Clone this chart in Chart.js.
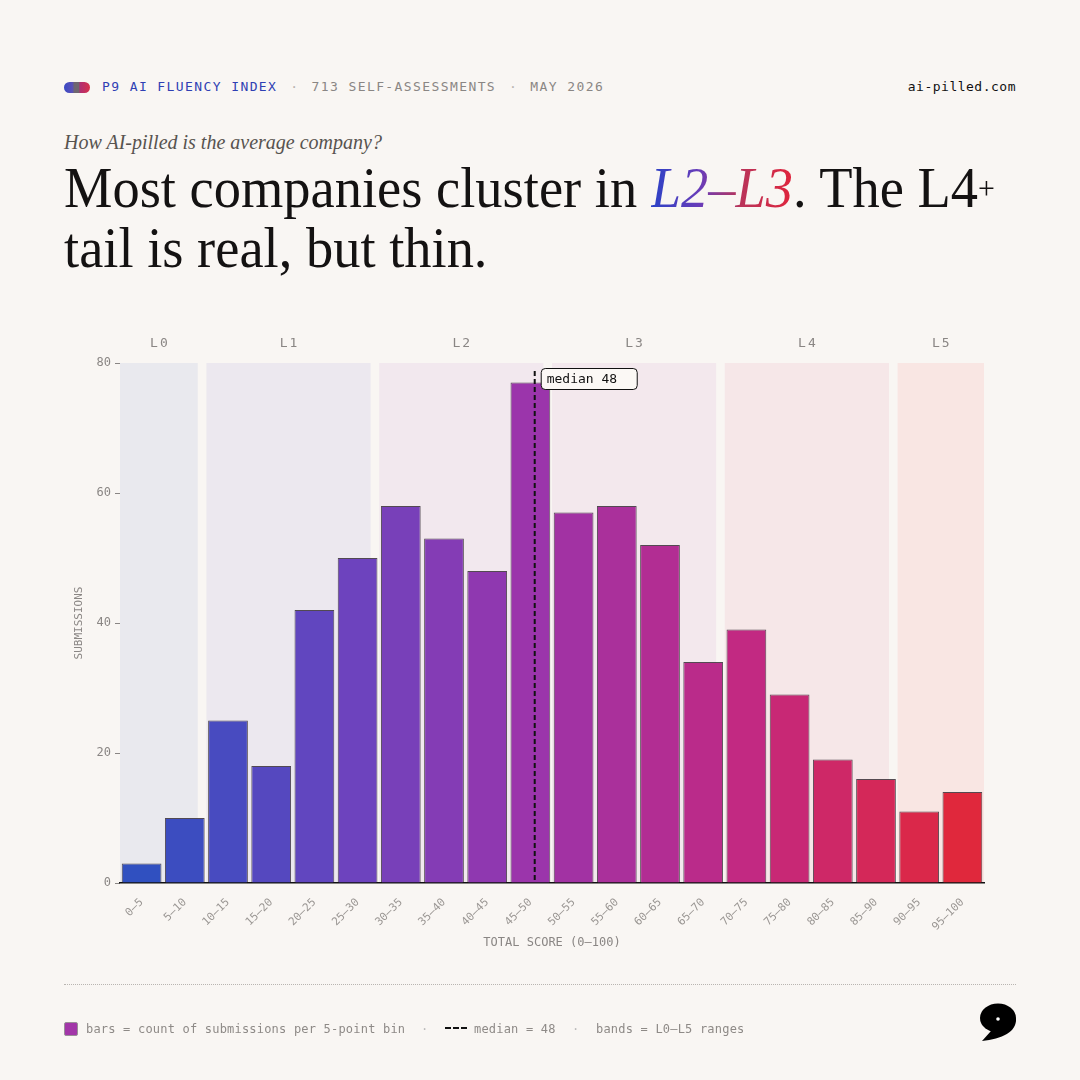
<!DOCTYPE html>
<html><head><meta charset="utf-8">
<script src="https://cdn.jsdelivr.net/npm/chart.js@4.4.1/dist/chart.umd.min.js"></script>
<style>
html,body{margin:0;padding:0;background:#f9f6f3;}
#page{position:relative;width:1080px;height:1080px;overflow:hidden;background:#f9f6f3;font-family:"DejaVu Sans Mono",monospace;}
.abs{position:absolute;white-space:nowrap;}
#pill{left:64px;top:82px;width:26px;height:11px;border-radius:6px;background:linear-gradient(90deg,#3a49c4 0%,#5a50b8 32%,#6f6670 40%,#6f6670 56%,#b02f72 62%,#d8304a 100%);}
#hdr{left:102px;top:79px;font-size:13px;letter-spacing:1.4px;color:#8a8684;line-height:16px;}
#hdr .b{color:#2f3fb3;}
#hdr .d{color:#b8b4b0;margin:0 12px 0 13px;}
#site{right:64px;top:79px;font-size:13px;letter-spacing:0.5px;color:#111;line-height:16px;}
#sub{left:64px;top:129px;font-family:"Liberation Serif",serif;font-style:italic;font-size:20px;color:#57534f;line-height:26px;}
#title{left:64px;top:158px;font-family:"Liberation Serif",serif;font-size:58px;line-height:59px;color:#141212;transform-origin:0 0;}
#title .grad{font-style:italic;background:linear-gradient(90deg,#2b42c6 0%,#6a3cb8 35%,#b8345a 62%,#e0243c 100%);-webkit-background-clip:text;background-clip:text;color:transparent;}
#title .plus{font-size:0.55em;vertical-align:0.25em;}
#rule{left:64px;top:984px;width:952px;height:0;border-top:1px dotted #b9b5b1;}
.lg{top:1021px;font-size:12px;color:#8e8a87;line-height:16px;letter-spacing:0.2px;}
#sw{left:64px;top:1022px;width:12px;height:12px;background:#a236a8;border:1px solid #9a8f98;border-radius:2px;}
#dash{left:445px;top:1027px;width:22px;height:2px;background:repeating-linear-gradient(90deg,#111 0 6px,transparent 6px 8px);}
#wrap{position:absolute;left:0;top:0;width:1080px;height:1080px;}
</style></head>
<body><div id="page">
<div id="pill" class="abs"></div>
<div id="hdr" class="abs"><span class="b">P9 AI FLUENCY INDEX</span><span class="d">·</span>713 SELF-ASSESSMENTS<span class="d">·</span>MAY 2026</div>
<div id="site" class="abs">ai-pilled.com</div>
<div id="sub" class="abs">How AI-pilled is the average company?</div>
<div id="title" class="abs">Most companies cluster in <span class="grad">L2–L3</span>. The L4<span class="plus">+</span><br>tail is real, but thin.</div>
<div id="wrap"><canvas id="c"></canvas></div>
<div id="rule" class="abs"></div>
<div id="sw" class="abs"></div>
<div class="abs lg" style="left:86px">bars = count of submissions per 5-point bin</div>
<div class="abs lg" style="left:421px;color:#bbb">·</div>
<div id="dash" class="abs"></div>
<div class="abs lg" style="left:474px">median = 48</div>
<div class="abs lg" style="left:572px;color:#bbb">·</div>
<div class="abs lg" style="left:596px">bands = L0–L5 ranges</div>
<svg class="abs" style="left:970px;top:995px" width="60" height="55" viewBox="970 995 60 55">
  <ellipse cx="998" cy="1018" rx="18" ry="14.5" fill="#000"/>
  <path d="M1016 1018 C1017 1032 1002 1039 982 1041 L991 1031 C1000 1030 1006 1027 1008 1020 Z" fill="#000"/>
  <circle cx="998" cy="1019" r="1.8" fill="#fff"/>
</svg>
</div>
<script>
// ---- data ----
const binLabels = ["0–5","5–10","10–15","15–20","20–25","25–30","30–35","35–40","40–45","45–50","50–55","55–60","60–65","65–70","70–75","75–80","80–85","85–90","90–95","95–100"];
const submissions = [3,10,25,18,42,50,58,53,48,77,57,58,52,34,39,29,19,16,11,14];
const bandNames = ["L0","L1","L2","L3","L4","L5"];
const bandLow  = [0,10,30,50,70,90];
const bandHigh = [9,29,49,69,89,100];
const medianScore = 48;
const yTicks = [0,20,40,60,80];

// ---- style ----
const bandFills = ["#e9e9ee","#ece8ef","#f2e8ee","#f3e8ed","#f6e7e8","#f9e6e3"];
const stops = [[0,[48,80,192]],[0.25,[106,68,191]],[0.47,[154,53,172]],[0.75,[196,40,128]],[1,[224,40,60]]];
function gradColor(t){
  for(let i=0;i<stops.length-1;i++){
    const [a,ca]=stops[i],[b,cb]=stops[i+1];
    if(t<=b){const f=(t-a)/(b-a);return `rgb(${ca.map((v,k)=>Math.round(v+(cb[k]-v)*f)).join(',')})`;}
  }
  return 'rgb(224,40,60)';
}
const barColors = binLabels.map((_,i)=>gradColor(i/(binLabels.length-1)));
const MONO = '"DejaVu Sans Mono", monospace';

// fit title width
const t = document.getElementById('title');
const r = document.createRange(); r.setStart(t.firstChild,0); r.setEnd(t.querySelector('.plus'),1);
const lw = r.getBoundingClientRect().width;
t.style.transform = `scaleX(${931/lw})`;

const bandPlugin = {
  id:'bands',
  beforeDraw(chart){
    const {ctx, chartArea:ca} = chart; const x2 = chart.scales.x2;
    ctx.save();
    bandNames.forEach((n,i)=>{
      const a = x2.getPixelForValue(bandLow[i]), b = x2.getPixelForValue(bandHigh[i]);
      ctx.fillStyle = bandFills[i];
      ctx.fillRect(a, ca.top, b-a, ca.bottom-ca.top);
    });
    ctx.restore();
  },
  afterDraw(chart){
    const {ctx, chartArea:ca} = chart; const x2 = chart.scales.x2;
    ctx.save();
    ctx.font = `13px ${MONO}`; ctx.fillStyle = '#8a8684'; ctx.textAlign='center'; ctx.textBaseline='middle';
    try{ctx.letterSpacing='2px';}catch(e){}
    bandNames.forEach((n,i)=>{
      const a = x2.getPixelForValue(bandLow[i]), b = x2.getPixelForValue(bandHigh[i]);
      ctx.fillText(n,(a+b)/2+1, ca.top-19);
    });
    ctx.restore();
  },
  afterDatasetsDraw(chart){
    const {ctx, chartArea:ca} = chart; const x2 = chart.scales.x2;
    const x = x2.getPixelForValue(medianScore);
    ctx.save();
    ctx.strokeStyle='#111'; ctx.lineWidth=2; ctx.setLineDash([5,3]);
    ctx.beginPath(); ctx.moveTo(x, ca.top+8); ctx.lineTo(x, ca.bottom); ctx.stroke();
    ctx.setLineDash([]);
    ctx.beginPath(); ctx.roundRect(x+6.5, ca.top+5.5, 96, 21, 4);
    ctx.fillStyle='#fbf8f5'; ctx.fill(); ctx.lineWidth=1; ctx.strokeStyle='#111'; ctx.stroke();
    ctx.fillStyle='#111'; ctx.font=`13px ${MONO}`; ctx.textBaseline='middle'; ctx.textAlign='left';
    ctx.fillText('median '+medianScore, x+12, ca.top+16.5);
    ctx.restore();
  }
};

new Chart(document.getElementById('c'),{
  type:'bar',
  data:{labels:binLabels,datasets:[{data:submissions,backgroundColor:barColors,borderColor:'rgba(30,20,30,0.75)',borderWidth:1,barPercentage:0.92,categoryPercentage:1}]},
  options:{
    responsive:true,maintainAspectRatio:false,animation:false,
    layout:{padding:{left:64,top:363,right:96,bottom:107}},
    plugins:{legend:{display:false},tooltip:{enabled:false}},
    scales:{
      x:{
        grid:{display:false},
        border:{display:true,color:'#111',width:1.5},
        ticks:{minRotation:45,maxRotation:45,color:'#9a9693',font:{family:MONO,size:11},padding:5},
        title:{display:true,text:'TOTAL SCORE (0–100)',color:'#8a8684',font:{family:MONO,size:12},padding:{top:0,bottom:23}},
        afterFit(s){s.height=90;}
      },
      x2:{type:'linear',position:'bottom',display:false,offset:false,min:0,max:100,grid:{offset:false}},
      y:{
        min:0,max:80,
        afterBuildTicks(s){s.ticks=yTicks.map(v=>({value:v}));},
        grid:{display:true,drawOnChartArea:false,drawTicks:true,tickLength:5,color:'#8a8684'},
        border:{display:false},
        ticks:{color:'#8a8684',font:{family:MONO,size:12},padding:4},
        title:{display:true,text:'SUBMISSIONS',color:'#8a8684',font:{family:MONO,size:11},padding:{top:9,bottom:0}},
        afterFit(s){s.width=56;}
      }
    }
  },
  plugins:[bandPlugin]
});
</script>
</body></html>
